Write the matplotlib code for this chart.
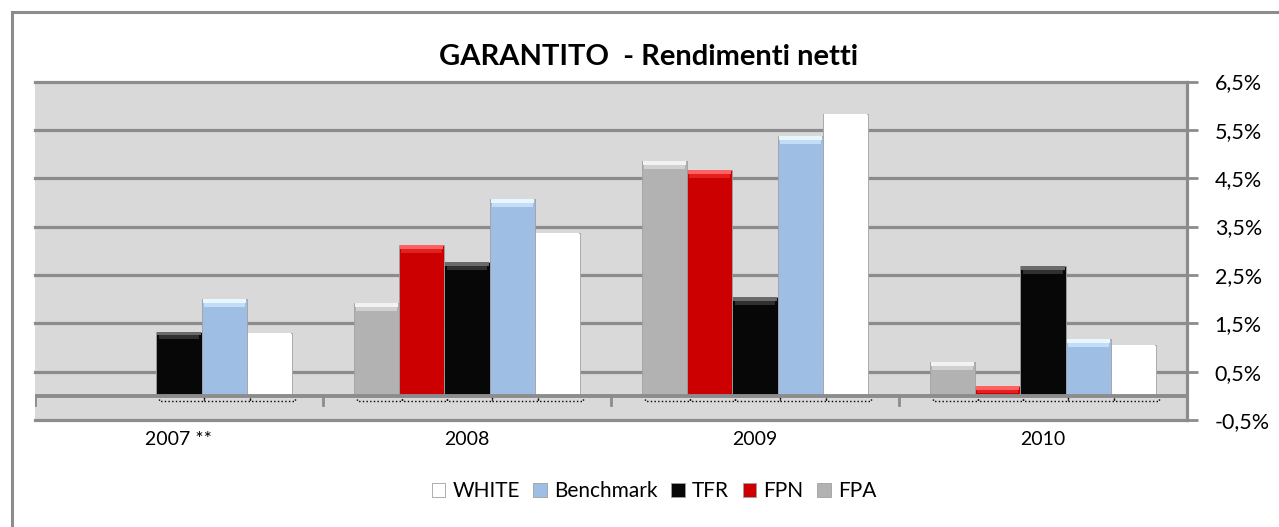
import numpy as np
import matplotlib.pyplot as plt
from matplotlib.patches import Rectangle

# DATA (% net returns)
years = ['2007 **', '2008', '2009', '2010']
series = ['FPA', 'FPN', 'TFR', 'Benchmark', 'WHITE']
fpa = [np.nan, 1.92, 4.85, 0.69]
fpn = [np.nan, 3.11, 4.66, 0.21]
tfr = [1.33, 2.76, 2.04, 2.68]
benchmark = [2.00, 4.06, 5.37, 1.17]
white = [1.30, 3.37, 5.82, 1.06]
yticks = [-0.5, 0.5, 1.5, 2.5, 3.5, 4.5, 5.5, 6.5]

values = [fpa, fpn, tfr, benchmark, white]
colors = ['#b2b2b2', '#cc0000', '#070707', '#9ebee4', '#ffffff']
tops1 = ['#f2f2f2', '#ff6060', '#6a6a6a', '#e8f6ff', '#ffffff']
tops2 = ['#d0d0d0', '#e22020', '#303030', '#c4ddf6', '#ffffff']

plt.rcParams['font.family'] = ['Lato', 'DejaVu Sans']

fig = plt.figure(figsize=(12.79, 5.27), dpi=100)
fig.patches.append(Rectangle((12/1279, -0.1), 1.2, 1 - 12/527 + 0.1, transform=fig.transFigure,
                             fill=False, edgecolor='#8c8c8c', linewidth=2.2))

ax = fig.add_axes([35/1279, 1 - 420/527, 1152/1279, (420 - 81.5)/527])
ax.set_facecolor('#d9d9d9')
ax.set_xlim(-0.5, 3.5)
ax.set_ylim(-0.5, 6.5)

for yv in yticks:
    ax.axhline(yv, color='#8c8c8c', linewidth=2.3, zorder=1, clip_on=False)
ax.axhline(0, color='#8c8c8c', linewidth=2.8, zorder=4)
for xb in [-0.5, 0.5, 1.5, 2.5]:
    ax.plot([xb, xb], [0, -0.2], color='#8c8c8c', linewidth=2, zorder=4)

x = np.arange(len(years))
w = 0.157
for i, (vals, c) in enumerate(zip(values, colors)):
    pos = x + (i - 2) * w
    vals = np.array(vals)
    ax.bar(pos, vals, width=w, color=c, edgecolor='#a0a0a0', linewidth=0.6, zorder=3, label=series[i])
    # bevel on the top of each bar
    ax.bar(pos, np.full(len(vals), 0.08), bottom=vals - 0.16, width=w * 0.9,
           color=tops2[i], linewidth=0, zorder=3.5)
    ax.bar(pos, np.full(len(vals), 0.08), bottom=vals - 0.08, width=w * 0.96,
           color=tops1[i], linewidth=0, zorder=3.5)
    # dotted shadow under each bar
    ax.bar(pos + 0.01, np.where(np.isnan(vals), np.nan, -0.1), width=w, fill=False,
           edgecolor='black', linestyle=':', linewidth=1.0, zorder=2)

ax.set_xticks(x)
ax.set_xticklabels(years, fontsize=14)
ax.tick_params(axis='x', length=0, pad=8)
ax.yaxis.tick_right()
ax.set_yticks(yticks)
ax.set_yticklabels([('%.1f%%' % v).replace('.', ',') for v in yticks], fontsize=15.5)
ax.tick_params(axis='y', length=8, width=2, color='#8c8c8c', pad=12)
for s in ['top', 'left', 'bottom']:
    ax.spines[s].set_visible(False)
ax.spines['right'].set_color('#8c8c8c')
ax.spines['right'].set_linewidth(2.3)

fig.text(0.507, 1 - 57/527, 'GARANTITO  - Rendimenti netti', ha='center', va='center',
         fontsize=21, fontweight='bold')

h, l = ax.get_legend_handles_labels()
leg = fig.legend(h[::-1], l[::-1], loc='center', bbox_to_anchor=(654/1279, 1 - 491/527), ncol=5,
                 frameon=False, fontsize=15, handlelength=0.65, handleheight=0.65,
                 handletextpad=0.35, columnspacing=0.65)

fig.savefig('out.png', dpi=100)
